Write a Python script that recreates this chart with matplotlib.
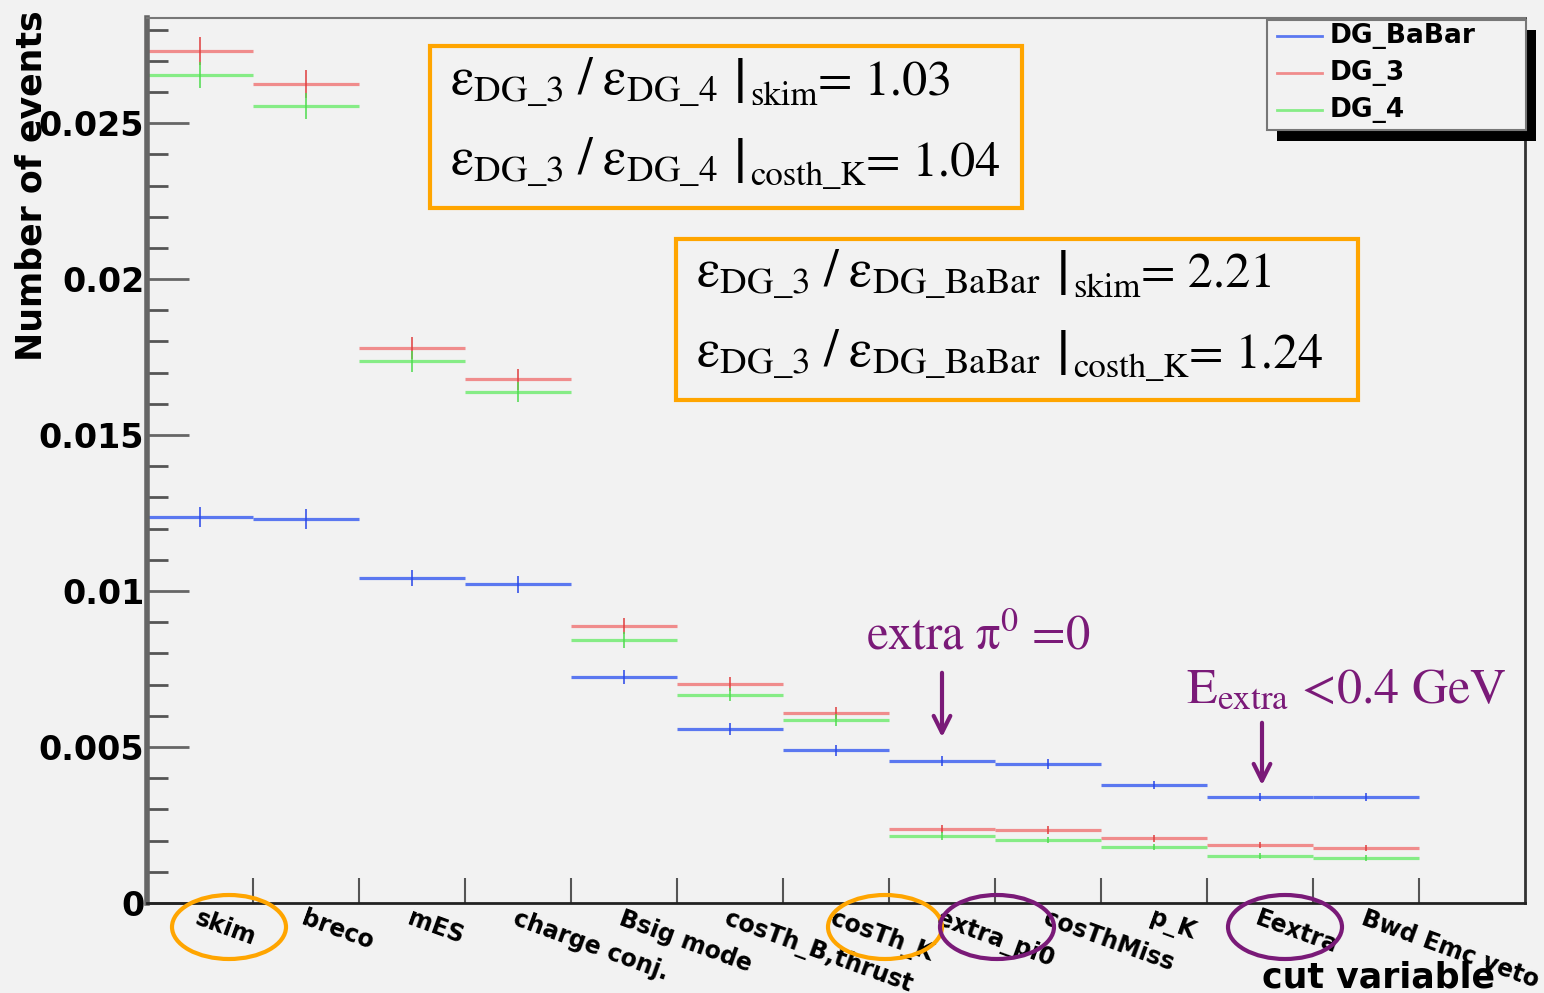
import numpy as np
import matplotlib.pyplot as plt
from matplotlib.patches import Rectangle, Ellipse

plt.rcParams['mathtext.fontset'] = 'stix'

# cut flow, one bin per cut
cuts = ['skim', 'breco', 'mES', 'charge conj.', 'Bsig mode', 'cosTh_B,thrust',
        'cosTh_K', 'extra_pi0', 'cosThMiss', 'p_K', 'Eextra', 'Bwd Emc veto']
dg_babar = [0.01237, 0.01231, 0.01042, 0.01022, 0.00724, 0.00558,
            0.00490, 0.00455, 0.00446, 0.00378, 0.00340, 0.00340]
dg_3 = [0.02731, 0.02625, 0.01779, 0.01679, 0.00888, 0.00702,
        0.00609, 0.00237, 0.00234, 0.00208, 0.00186, 0.00176]
dg_4 = [0.02654, 0.02554, 0.01737, 0.01638, 0.00843, 0.00667,
        0.00587, 0.00215, 0.00202, 0.00179, 0.00151, 0.00144]
err_babar = [0.00032, 0.00031, 0.00027, 0.00027, 0.00023, 0.00020,
             0.00018, 0.00017, 0.00016, 0.00014, 0.00013, 0.00013]
err_3 = [0.00045, 0.00045, 0.00036, 0.00034, 0.00026, 0.00022,
         0.00020, 0.00013, 0.00012, 0.00011, 0.00010, 0.00010]
err_4 = [0.00042, 0.00042, 0.00034, 0.00032, 0.00025, 0.00021,
         0.00019, 0.00012, 0.00011, 0.00010, 0.00009, 0.00009]

series = ['DG_BaBar', 'DG_3', 'DG_4']
values = [dg_babar, dg_3, dg_4]
errors = [err_babar, err_3, err_4]
line_colors = ['#5b78f0', '#f08c8c', '#86ec86']
bar_colors = ['#2a48e8', '#e04040', '#50dc50']

# efficiency ratios quoted in the boxes
ratio_dg4 = [('DG\\_4', 'skim', '1.03'), ('DG\\_4', 'costh_K', '1.04')]
ratio_babar = [('DG\\_BaBar', 'skim', '2.21'), ('DG\\_BaBar', 'costh_K', '1.24')]

W, H = 1544, 993
fig = plt.figure(figsize=(W / 100, H / 100), dpi=100, facecolor='#f2f2f2')
ax = fig.add_axes([147 / W, 1 - 903 / H, (1525 - 147) / W, (903 - 18) / H])
ax.set_facecolor('#f2f2f2')

x = np.arange(len(cuts))
for vals, errs, lc, bc in zip(values, errors, line_colors, bar_colors):
    vals = np.array(vals)
    errs = np.array(errs)
    ax.hlines(vals, x, x + 1, color=lc, lw=2.3)
    ax.vlines(x + 0.5, vals - errs, vals + errs, color=bc, lw=1.4, alpha=0.8)

ax.set_xlim(0, len(cuts) + 1)
ax.set_ylim(0, 0.02837)

# ROOT style ticks
ax.set_yticks(np.arange(0, 0.0251, 0.005))
ax.set_yticks(np.arange(0, 0.0281, 0.001), minor=True)
ax.set_yticklabels(['0', '0.005', '0.01', '0.015', '0.02', '0.025'],
                   fontsize=24, fontweight='bold', family='DejaVu Sans')
ax.tick_params(axis='y', which='major', direction='in', length=30, width=2,
               color='#666666', pad=2)
ax.tick_params(axis='y', which='minor', direction='in', length=15, width=2,
               color='#555555')
ax.set_xticks(np.arange(1, len(cuts) + 1))
ax.set_xticklabels([])
ax.tick_params(axis='x', which='major', direction='in', length=18, width=1.5,
               color='#555555')

for i, lab in enumerate(cuts):
    ax.text(i + 0.5, -0.004, lab, transform=ax.get_xaxis_transform(),
            rotation=-20, rotation_mode='anchor', ha='left', va='top',
            fontsize=17, fontweight='bold', family='DejaVu Sans')

ax.spines['left'].set_linewidth(4)
ax.spines['left'].set_color('#666666')
ax.spines['bottom'].set_linewidth(2)
ax.spines['bottom'].set_color('#222222')
ax.spines['right'].set_linewidth(2)
ax.spines['right'].set_color('#333333')
ax.spines['top'].set_linewidth(1.5)
ax.spines['top'].set_color('#777777')

fig.text(32 / W, 1 - 10 / H, 'Number of events', rotation=90, ha='center',
         va='top', fontsize=25, fontweight='bold', family='DejaVu Sans')
fig.text(1495 / W, 1 - 988 / H, 'cut variable', ha='right', va='baseline',
         fontsize=25, fontweight='bold', family='DejaVu Sans')

# overlay in pixel coordinates for the annotations
ov = fig.add_axes([0, 0, 1, 1], zorder=5)
ov.set_xlim(0, W)
ov.set_ylim(H, 0)
ov.axis('off')
ov.patch.set_alpha(0)

# legend with ROOT shadow
ov.add_patch(Rectangle((1277, 30), 259, 111, facecolor='black', edgecolor='none'))
ov.add_patch(Rectangle((1267, 20), 259, 110, facecolor='#f2f2f2',
                       edgecolor='#777777', lw=1.5))
for k, (name, lc) in enumerate(zip(series, line_colors)):
    yy = 36 + 37 * k
    ov.plot([1277, 1322], [yy, yy], color=lc, lw=2)
    ov.text(1330, yy, name, va='center', ha='left', fontsize=19,
            fontweight='bold', family='DejaVu Sans')

orange = '#ffa500'
purple = '#7a1a78'

ov.add_patch(Rectangle((430, 46), 592, 162, facecolor='none', edgecolor=orange, lw=3))
ov.add_patch(Rectangle((676, 239), 682, 161, facecolor='none', edgecolor=orange, lw=3))

renderer = fig.canvas.get_renderer()


def right_edge(t):
    bb = t.get_window_extent(renderer)
    return ov.transData.inverted().transform((bb.x1, bb.y0))[0]


for rows, x0, ys in [(ratio_dg4, 450, [95, 175]), (ratio_babar, 696, [287, 367])]:
    for (den, cut, val), yb in zip(rows, ys):
        s = (r'$\mathrm{\varepsilon}_{\mathrm{DG\_3}}\;/\;\mathrm{\varepsilon}_{\mathrm{'
             + den + r'}}$')
        t = ov.text(x0, yb, s, fontsize=38, ha='left', va='baseline')
        xb = right_edge(t) + 16
        t = ov.text(xb, yb + 8, '|', fontsize=46, family='STIXGeneral',
                    ha='left', va='baseline')
        xs = right_edge(t) + 4
        t = ov.text(xs, yb + 10, cut, fontsize=25, family='STIXGeneral',
                    ha='left', va='baseline')
        xe = right_edge(t)
        ov.text(xe, yb, '= ' + val, fontsize=36, family='STIXGeneral',
                ha='left', va='baseline')

ov.text(866, 650, r'extra $\mathrm{\pi}^0$ =0', fontsize=35, color=purple,
        family='STIXGeneral', ha='left', va='baseline')
ov.text(1186, 702, r'E$_{\mathrm{extra}}$ <0.4 GeV', fontsize=36, color=purple,
        family='STIXGeneral', ha='left', va='baseline')
ov.annotate('', xy=(942, 740), xytext=(942, 670),
            arrowprops=dict(arrowstyle='->', color=purple, lw=3, mutation_scale=30))
ov.annotate('', xy=(1262, 788), xytext=(1262, 720),
            arrowprops=dict(arrowstyle='->', color=purple, lw=3, mutation_scale=30))

for cx, col in [(229, orange), (885, orange), (997, purple), (1285, purple)]:
    ov.add_patch(Ellipse((cx, 927), 114, 64, facecolor='none', edgecolor=col, lw=3))

fig.savefig('out.png', dpi=100, facecolor=fig.get_facecolor())
